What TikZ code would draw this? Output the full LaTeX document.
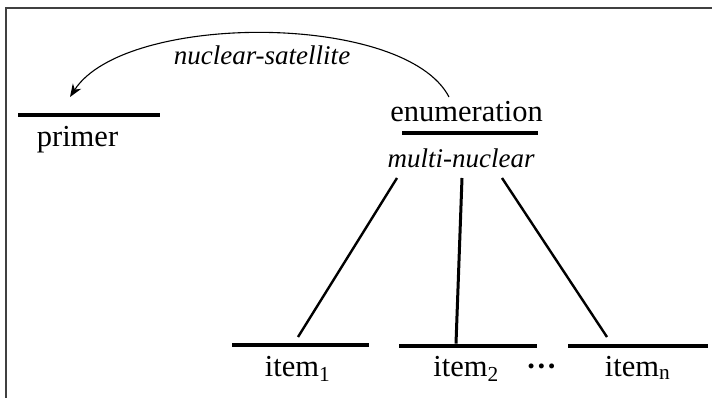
\documentclass[tikz,border=0pt]{standalone}
\usepackage{fontspec}
\setmainfont{Liberation Serif}
\usepackage{tikz}
\usetikzlibrary{arrows.meta}

\begin{document}
\begin{tikzpicture}[x=1pt,y=-1pt]
\tikzset{>={Stealth[width=10pt,length=13pt]}}
\tikzstyle{bar} =[fill = black,inner sep=0pt,minimum height=4.5pt]
\tikzstyle{word} =[anchor=base,inner sep=0pt,font=\fontsize{30.5pt}{36pt}\selectfont]
\tikzstyle{rel} =[anchor=base,inner sep=0pt,font=\fontsize{27pt}{32pt}\selectfont\itshape]
\tikzstyle{link} =[line width=2.4pt]

\useasboundingbox (0,0) rectangle (712,398);
\draw[black!75,line width=1.6pt] (6,8) rectangle (740,430);

% spans
\node[bar,minimum width=142pt](s0) at (89,115){};
\node[bar,minimum width=136pt](s1) at (470,133){};
\node[bar,minimum width=137pt](s2) at (300.5,345){};
\node[bar,minimum width=138pt](s3) at (468,346){};
\node[bar,minimum width=140pt](s4) at (638,346){};

% texts
\node[word](primer) at (77.5,147){primer};
\node[word](enum) at (466.5,122){enumeration};
\node[rel](multi) at (461,168){multi-nuclear};
\node[rel](nucsat) at (262,65){nuclear-satellite};
\node[word](item1) at (297.5,376){item\textsubscript{1}};
\node[word](item2) at (466,376){item\textsubscript{2}};
\node[word,font=\fontsize{30.5pt}{36pt}\selectfont\bfseries](dots) at (541.5,376){···};
\node[word](itemn) at (637.5,376){item\textsubscript{n}};

% end points
\coordinate (a0) at (449,97);
\coordinate (a1) at (70,97);
\coordinate (t1) at (397,178);
\coordinate (t2) at (462,178);
\coordinate (t3) at (502,178);
\coordinate (e1) at (298,337);
\coordinate (e3) at (607,337);

\draw [->,line width=1.1pt] (a0) .. controls (405,12) and (125,12) .. (a1);
\draw [link] (t1) -- (e1);
\draw [link,line width=3pt] (t2) -- (s3.north -| 456,0);
\draw [link] (t3) -- (e3);
\end{tikzpicture}
\end{document}
